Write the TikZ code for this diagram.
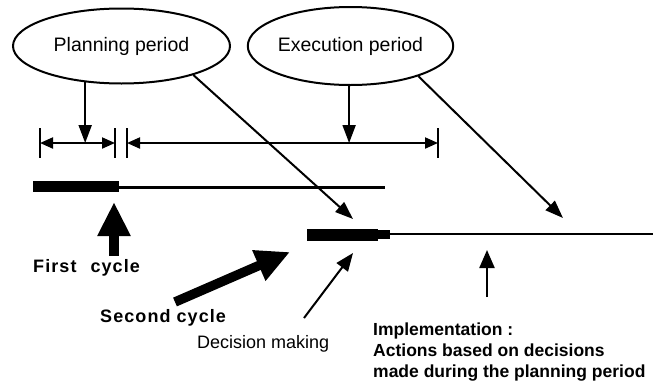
\documentclass[tikz,border=0pt]{standalone}
\usepackage{fontspec}
\setmainfont{Liberation Sans}
\usetikzlibrary{arrows.meta,shapes.geometric}
\begin{document}
\begin{tikzpicture}[x=1pt,y=-1pt,
  period/.style={ellipse,draw,line width=2pt,inner sep=0pt,font=\fontsize{19.5}{22}\selectfont},
  thinarrow/.style={line width=2pt,-{Triangle[length=18pt,width=13pt]}},
  dimline/.style={line width=2pt,{Triangle[length=13pt,width=11pt]}-{Triangle[length=13pt,width=11pt]}},
  tickmark/.style={line width=2pt},
  bigarrow/.style={line width=9.5pt,-{Triangle[length=34pt,width=31pt]}},
  lbl/.style={inner sep=0pt,anchor=base west,font=\fontsize{18}{21}\selectfont},
  blbl/.style={inner sep=0pt,anchor=base west,font=\fontsize{18}{21}\selectfont\bfseries\addfontfeatures{LetterSpace=6}},
  cyclebar/.style={fill=black},
  timeline/.style={line width=2.6pt},
]
\useasboundingbox (0,0) rectangle (653,381);

% ellipses
\node[period,minimum width=217pt,minimum height=75pt] (plan) at (121.5,46) {Planning period};
\node[period,minimum width=205pt,minimum height=78pt] (exec) at (350.5,46) {Execution period};

% dimension lines
\coordinate (d1a) at (40,143);
\coordinate (d1b) at (115,143);
\coordinate (d2a) at (127,143);
\coordinate (d2b) at (438,143);
\foreach \p in {d1a,d1b,d2a,d2b}
  \draw[tickmark] ([yshift=15pt]\p) -- ([yshift=-15pt]\p);
\draw[dimline] (d1a) -- (d1b);
\draw[dimline] (d2a) -- (d2b);

% vertical arrows from the ellipses
\draw[thinarrow] (plan.-135) -- (plan.-135 |- d1a);
\draw[thinarrow] (exec.-92) -- (exec.-92 |- d2a);

% first cycle bar
\fill[cyclebar] (33,181) rectangle (119,192);
\draw[timeline] (119,187.5) -- (385,187.5);

% second cycle bar
\fill[cyclebar] (307,229) rectangle (378,241);
\fill[cyclebar] (378,230) rectangle (390,239);
\draw[timeline] (390,234) -- (653,234);

% diagonal arrows
\coordinate (ta) at (353,219);
\coordinate (tb) at (563,218);
\draw[thinarrow] (plan.-22) -- (ta);
\draw[thinarrow] (exec.-24) -- (tb);

% labels
\node[blbl] (first) at (33,272) {First\hspace{14pt}cycle};
\node[blbl] (second) at (100,322) {Second\hspace{6pt}cycle};
\node[lbl] (decision) at (197,348) {Decision making};
\node[anchor=north west,inner sep=0pt,align=left,font=\fontsize{17.5}{21}\selectfont\bfseries] (impl) at (373,322.5)
  {Implementation :\\Actions based on decisions\\made during the planning period};

% big arrows
\coordinate (fctip) at (114,202);
\coordinate (sctail) at (175,302);
\coordinate (sctip) at (290,252);
\draw[bigarrow] ([yshift=3pt]first.north -| fctip) -- (fctip);
\draw[bigarrow] (sctail) -- (sctip);

% decision making arrow
\coordinate (dmtail) at (304,318);
\coordinate (dmtip) at (353,253);
\draw[line width=2pt,-{Triangle[length=18pt,width=14pt]}] (dmtail) -- (dmtip);

% implementation arrow
\coordinate (imtail) at (487,297);
\coordinate (imtip) at (487,250);
\draw[line width=2.2pt,-{Triangle[length=18pt,width=15pt]}] (imtail) -- (imtip);
\end{tikzpicture}
\end{document}
